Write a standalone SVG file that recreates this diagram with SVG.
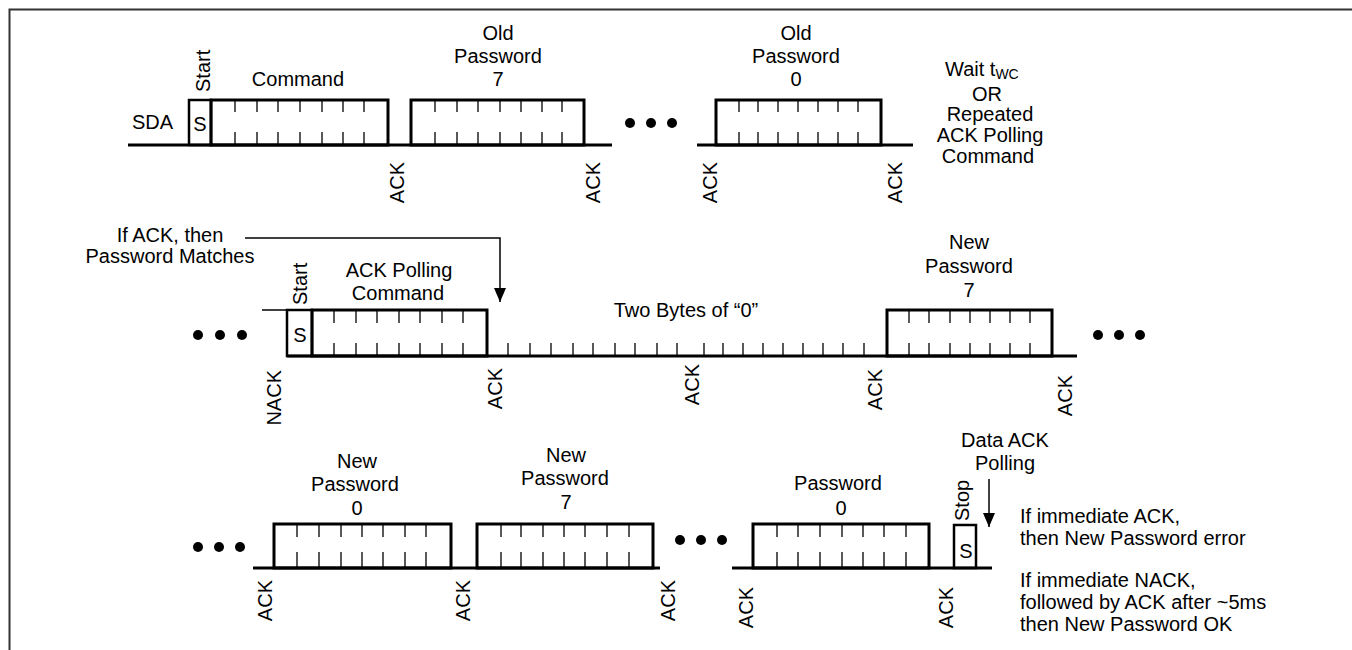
<svg xmlns="http://www.w3.org/2000/svg" width="1352" height="650" viewBox="0 0 1352 650">
<style>
.bx{fill:none;stroke:#000;stroke-width:3}
.ln{fill:none;stroke:#000;stroke-width:3}
.thin{fill:none;stroke:#000;stroke-width:1.5}
.tk{fill:none;stroke:#000;stroke-width:1.3}
.t{font-family:"Liberation Sans",Arial,Helvetica,sans-serif;font-size:20px;fill:#000}
.c{text-anchor:middle}
.e{text-anchor:end}
.dot{fill:#000}
</style>
<defs>
<marker id="ah" viewBox="0 0 14 12" refX="14" refY="6" markerWidth="14" markerHeight="12" markerUnits="userSpaceOnUse" orient="auto"><path d="M0,0 L14,6 L0,12 Z" fill="#000"/></marker>
</defs>
<rect width="1352" height="650" fill="#fff"/>
<g id="frame"><path d="M9.5,650 V9.5 H1352" fill="none" stroke="#333" stroke-width="2"/></g>

<g id="connectors">
<path class="ln" d="M128,145 H612 M697,145 H913"/>
<path class="thin" d="M262,310 H287"/>
<path class="ln" d="M287,356 H1077"/>
<path class="ln" d="M253,568 H660 M732,568 H992"/>
<path class="thin" d="M245,238 H500 V302" marker-end="url(#ah)"/>
<path class="thin" d="M989,479 V527" marker-end="url(#ah)"/>
</g>

<g id="row1-sda"><text class="t" x="132" y="129">SDA</text></g>
<g id="row1-start">
<rect class="bx" x="189" y="100" width="22" height="45" style="stroke-width:2.5"/>
<text class="t c" x="200" y="131">S</text>
<text class="t" transform="translate(210,92) rotate(-90)">Start</text>
</g>
<g id="row1-command">
<rect class="bx" x="211" y="100" width="177" height="45"/>
<path class="tk" d="M235,100V112M257,100V112M278,100V112M300,100V112M322,100V112M343,100V112M364,100V112M235,132V145M257,132V145M278,132V145M300,132V145M322,132V145M343,132V145M364,132V145"/>
<text class="t c" x="298" y="86">Command</text>
</g>
<g id="row1-oldpw7">
<rect class="bx" x="411" y="100" width="173" height="45"/>
<path class="tk" d="M435,100V112M457,100V112M478,100V112M500,100V112M521,100V112M542,100V112M562,100V112M435,132V145M457,132V145M478,132V145M500,132V145M521,132V145M542,132V145M562,132V145"/>
<text class="t c" x="498" y="40">Old</text>
<text class="t c" x="498" y="63">Password</text>
<text class="t c" x="498" y="86">7</text>
</g>
<g id="row1-dots"><circle class="dot" cx="630" cy="123" r="5"/><circle class="dot" cx="651" cy="123" r="5"/><circle class="dot" cx="672" cy="123" r="5"/></g>
<g id="row1-oldpw0">
<rect class="bx" x="716" y="100" width="165" height="45"/>
<path class="tk" d="M739,100V112M758,100V112M778,100V112M798,100V112M818,100V112M838,100V112M858,100V112M739,132V145M758,132V145M778,132V145M798,132V145M818,132V145M838,132V145M858,132V145"/>
<text class="t c" x="796" y="40">Old</text>
<text class="t c" x="796" y="63">Password</text>
<text class="t c" x="796" y="86">0</text>
</g>
<g id="row1-wait">
<text class="t" x="945" y="76">Wait t<tspan font-size="14" dy="3">WC</tspan></text>
<text class="t c" x="987" y="101">OR</text>
<text class="t c" x="990" y="121">Repeated</text>
<text class="t c" x="990" y="142">ACK Polling</text>
<text class="t c" x="988" y="163">Command</text>
</g>
<g id="row1-acks">
<text class="t e" transform="translate(404,162) rotate(-90)">ACK</text>
<text class="t e" transform="translate(600,162) rotate(-90)">ACK</text>
<text class="t e" transform="translate(717,162) rotate(-90)">ACK</text>
<text class="t e" transform="translate(902,162) rotate(-90)">ACK</text>
</g>

<g id="row2-note">
<text class="t c" x="170" y="242">If ACK, then</text>
<text class="t c" x="170" y="263">Password Matches</text>
</g>
<g id="row2-dots-left"><circle class="dot" cx="198" cy="335" r="5"/><circle class="dot" cx="220" cy="335" r="5"/><circle class="dot" cx="242" cy="335" r="5"/></g>
<g id="row2-start">
<rect class="bx" x="287" y="310" width="25" height="46" style="stroke-width:2.5"/>
<text class="t c" x="300" y="342">S</text>
<text class="t" transform="translate(307,305) rotate(-90)">Start</text>
</g>
<g id="row2-ackpoll">
<rect class="bx" x="312" y="310" width="175" height="46"/>
<path class="tk" d="M334,310V323M356,310V323M377,310V323M399,310V323M420,310V323M442,310V323M463,310V323M334,343V356M356,343V356M377,343V356M399,343V356M420,343V356M442,343V356M463,343V356"/>
<text class="t c" x="399" y="277">ACK Polling</text>
<text class="t c" x="398" y="300">Command</text>
</g>
<g id="row2-zeros">
<path class="tk" d="M508,343V356M530,343V356M551,343V356M573,343V356M593,343V356M615,343V356M635,343V356M657,343V356M677,343V356M704,343V356M723,343V356M743,343V356M763,343V356M783,343V356M803,343V356M823,343V356M843,343V356M864,343V356"/>
<text class="t c" x="686" y="317">Two Bytes of “0”</text>
</g>
<g id="row2-newpw7">
<rect class="bx" x="887" y="310" width="165" height="46"/>
<path class="tk" d="M909,310V323M929,310V323M950,310V323M970,310V323M990,310V323M1010,310V323M1030,310V323M909,343V356M929,343V356M950,343V356M970,343V356M990,343V356M1010,343V356M1030,343V356"/>
<text class="t c" x="969" y="249">New</text>
<text class="t c" x="969" y="273">Password</text>
<text class="t c" x="969" y="297">7</text>
</g>
<g id="row2-dots-right"><circle class="dot" cx="1098" cy="335" r="5"/><circle class="dot" cx="1119" cy="335" r="5"/><circle class="dot" cx="1140" cy="335" r="5"/></g>
<g id="row2-acks">
<text class="t e" transform="translate(281,370) rotate(-90)">NACK</text>
<text class="t e" transform="translate(502,368) rotate(-90)">ACK</text>
<text class="t e" transform="translate(699,364) rotate(-90)">ACK</text>
<text class="t e" transform="translate(882,369) rotate(-90)">ACK</text>
<text class="t e" transform="translate(1072,375) rotate(-90)">ACK</text>
</g>

<g id="row3-dots-left"><circle class="dot" cx="198" cy="547" r="5"/><circle class="dot" cx="219" cy="547" r="5"/><circle class="dot" cx="240" cy="547" r="5"/></g>
<g id="row3-newpw0">
<rect class="bx" x="274" y="524" width="177" height="44"/>
<path class="tk" d="M297,524V537M319,524V537M341,524V537M362,524V537M383,524V537M405,524V537M426,524V537M297,552V568M319,552V568M341,552V568M362,552V568M383,552V568M405,552V568M426,552V568"/>
<text class="t c" x="357" y="468">New</text>
<text class="t c" x="355" y="491">Password</text>
<text class="t c" x="357" y="515">0</text>
</g>
<g id="row3-newpw7">
<rect class="bx" x="477" y="524" width="176" height="44"/>
<path class="tk" d="M501,524V537M521,524V537M543,524V537M564,524V537M585,524V537M607,524V537M629,524V537M501,552V568M521,552V568M543,552V568M564,552V568M585,552V568M607,552V568M629,552V568"/>
<text class="t c" x="566" y="462">New</text>
<text class="t c" x="565" y="485">Password</text>
<text class="t c" x="566" y="509">7</text>
</g>
<g id="row3-dots-mid"><circle class="dot" cx="680" cy="540" r="5"/><circle class="dot" cx="701" cy="540" r="5"/><circle class="dot" cx="722" cy="540" r="5"/></g>
<g id="row3-pw0">
<rect class="bx" x="753" y="524" width="176" height="44"/>
<path class="tk" d="M777,524V537M798,524V537M820,524V537M842,524V537M863,524V537M884,524V537M906,524V537M777,552V568M798,552V568M820,552V568M842,552V568M863,552V568M884,552V568M906,552V568"/>
<text class="t c" x="838" y="490">Password</text>
<text class="t c" x="841" y="515">0</text>
</g>
<g id="row3-stop">
<rect class="bx" x="954" y="525" width="22" height="43" style="stroke-width:2.5"/>
<text class="t c" x="966" y="558">S</text>
<text class="t" transform="translate(969,521) rotate(-90)">Stop</text>
</g>
<g id="row3-dataack">
<text class="t c" x="1005" y="447">Data ACK</text>
<text class="t c" x="1005" y="470">Polling</text>
</g>
<g id="row3-result">
<text class="t" x="1020" y="523">If immediate ACK,</text>
<text class="t" x="1020" y="545">then New Password error</text>
<text class="t" x="1020" y="587">If immediate NACK,</text>
<text class="t" x="1020" y="609">followed by ACK after ~5ms</text>
<text class="t" x="1020" y="631">then New Password OK</text>
</g>
<g id="row3-acks">
<text class="t e" transform="translate(272,580) rotate(-90)">ACK</text>
<text class="t e" transform="translate(470,580) rotate(-90)">ACK</text>
<text class="t e" transform="translate(675,580) rotate(-90)">ACK</text>
<text class="t e" transform="translate(753,587) rotate(-90)">ACK</text>
<text class="t e" transform="translate(953,587) rotate(-90)">ACK</text>
</g>
</svg>
